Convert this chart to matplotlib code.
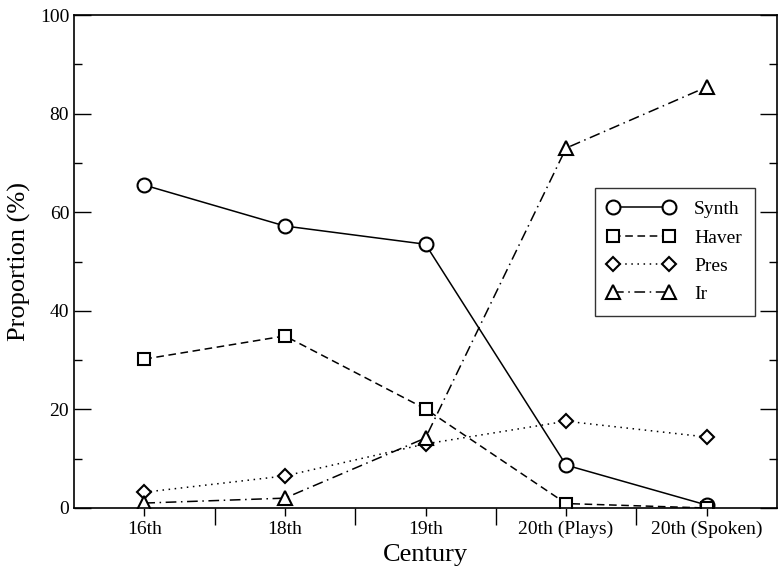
import matplotlib.pyplot as plt
from matplotlib.ticker import FixedLocator, MultipleLocator

plt.rcParams['font.family'] = ['Liberation Serif', 'DejaVu Serif']

centuries = ['16th', '18th', '19th', '20th (Plays)', '20th (Spoken)']
synth = [65.5, 57.2, 53.5, 8.7, 0.6]
haver = [30.2, 34.9, 20.1, 0.9, 0.0]
pres = [3.2, 6.5, 13.0, 17.6, 14.4]
ir = [1.0, 2.0, 14.2, 73.0, 85.4]

fig = plt.figure(figsize=(7.79, 5.69), dpi=100)
ax = fig.add_axes([74/779, 1 - 508/569, (777-74)/779, (508-15)/569])

x = list(range(len(centuries)))
style = dict(color='black', lw=1.1, ms=10, mfc='white', mew=1.5)
ax.plot(x, synth, ls='-', marker='o', label='Synth', **style)
ax.plot(x, haver, ls=(0, (5, 3)), marker='s', label='Haver', **dict(style, ms=9))
ax.plot(x, pres, ls=(0, (1, 3)), marker='D', label='Pres', **dict(style, ms=7.5))
ax.plot(x, ir, ls=(0, (7, 3, 1, 3)), marker='^', label='Ir', **style)

ax.set_xlim(-0.5, 4.5)
ax.set_ylim(0, 100)

# category boundaries as major ticks, labels at category centres
ax.xaxis.set_major_locator(FixedLocator([0.5, 1.5, 2.5, 3.5]))
ax.xaxis.set_major_formatter(plt.NullFormatter())
ax.xaxis.set_minor_locator(FixedLocator(x))
ax.set_xticklabels(centuries, minor=True)
ax.tick_params(axis='x', which='major', direction='out', length=12, width=1)
ax.tick_params(axis='x', which='minor', direction='out', length=6, width=1, labelsize=14)

ax.yaxis.set_major_locator(MultipleLocator(20))
ax.yaxis.set_minor_locator(MultipleLocator(10))
ax.tick_params(axis='y', which='major', direction='in', length=12, width=1,
               labelsize=14, right=True)
ax.tick_params(axis='y', which='minor', direction='in', length=6, width=1, right=True)

for s in ax.spines.values():
    s.set_linewidth(1.2)

ax.set_xlabel('Century', fontsize=19, labelpad=4)
ax.set_ylabel('Proportion (%)', fontsize=19, labelpad=6)

leg = ax.legend(loc='upper left', bbox_to_anchor=((595-74)/703, (508-188)/493),
                numpoints=2, handlelength=3.45, fontsize=14, frameon=True,
                fancybox=False, borderpad=0.65, borderaxespad=0,
                labelspacing=0.55, handletextpad=1.0)
leg.get_frame().set_edgecolor('black')
leg.get_frame().set_linewidth(1.0)

fig.savefig('out.png', dpi=100)
